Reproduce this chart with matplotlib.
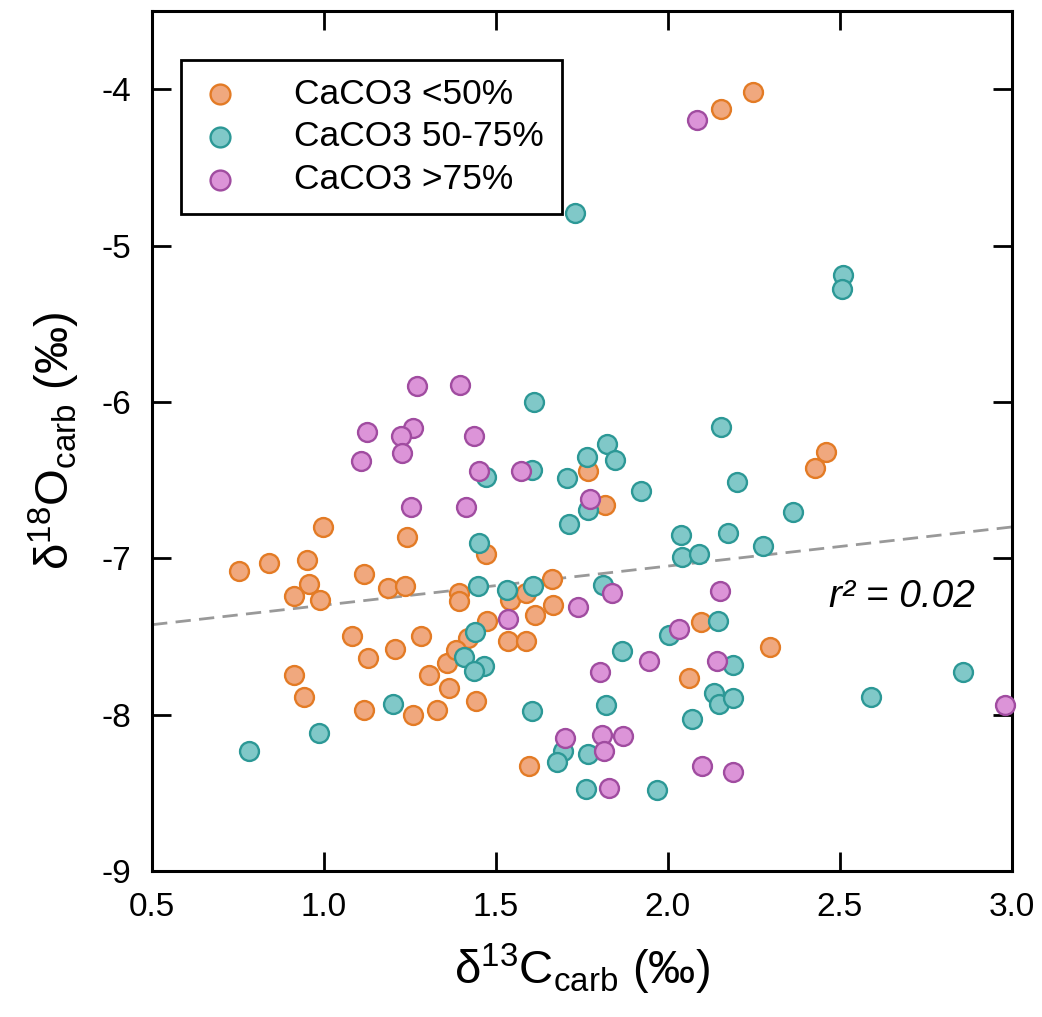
import matplotlib
matplotlib.use("Agg")
import matplotlib.pyplot as plt

# Values: d13C (x) and d18O (y), per-mille
low_x = [2.246, 2.154, 2.461, 2.427, 1.768, 1.817, 0.996, 1.240, 1.470, 0.753,
         0.840, 0.950, 0.957, 0.914, 0.988, 1.117, 1.187, 1.235, 1.392, 1.392,
         1.540, 1.587, 1.667, 1.662, 1.613, 1.473, 1.534, 1.587, 1.080, 1.282,
         1.420, 1.127, 1.206, 0.914, 0.942, 1.116, 1.260, 1.328, 1.306, 1.357,
         1.364, 1.384, 1.442, 1.596, 2.095, 2.061, 2.297]
low_y = [-4.02, -4.13, -6.32, -6.42, -6.445, -6.66, -6.80, -6.865, -6.97, -7.08,
         -7.03, -7.01, -7.165, -7.24, -7.265, -7.10, -7.19, -7.18, -7.22, -7.275,
         -7.27, -7.22, -7.30, -7.13, -7.36, -7.40, -7.53, -7.53, -7.50, -7.50,
         -7.51, -7.64, -7.58, -7.745, -7.89, -7.97, -8.00, -7.97, -7.745, -7.67,
         -7.83, -7.59, -7.915, -8.33, -7.41, -7.765, -7.57]

mid_x = [1.730, 2.510, 2.505, 1.610, 2.154, 1.824, 1.764, 1.846, 1.604, 1.471,
         1.707, 2.200, 1.923, 1.768, 1.712, 2.364, 2.037, 2.040, 2.091, 2.176,
         2.277, 1.452, 1.447, 1.533, 1.607, 1.812, 1.439, 1.408, 1.466, 1.436,
         2.147, 2.003, 1.865, 2.190, 1.819, 2.071, 2.135, 2.148, 2.190, 1.200,
         0.985, 0.783, 1.606, 1.696, 1.678, 1.768, 1.762, 1.969, 2.592, 2.858]
mid_y = [-4.79, -5.19, -5.28, -6.00, -6.16, -6.27, -6.355, -6.37, -6.435, -6.48,
         -6.49, -6.51, -6.57, -6.69, -6.78, -6.705, -6.85, -6.99, -6.97, -6.84,
         -6.92, -6.90, -7.18, -7.205, -7.18, -7.17, -7.47, -7.63, -7.69, -7.72,
         -7.40, -7.49, -7.595, -7.68, -7.94, -8.025, -7.86, -7.93, -7.895, -7.93,
         -8.12, -8.23, -7.98, -8.23, -8.30, -8.255, -8.475, -8.485, -7.89, -7.73]

high_x = [2.086, 1.269, 1.395, 1.124, 1.260, 1.223, 1.228, 1.107, 1.436, 1.452,
          1.572, 1.773, 1.254, 1.412, 1.739, 1.536, 1.836, 2.151, 2.032, 1.802,
          1.946, 2.144, 1.700, 1.807, 1.868, 1.815, 1.829, 2.100, 2.188, 2.980]
high_y = [-4.20, -5.896, -5.89, -6.19, -6.17, -6.22, -6.33, -6.375, -6.22, -6.445,
          -6.44, -6.62, -6.67, -6.675, -7.31, -7.39, -7.22, -7.21, -7.45, -7.73,
          -7.66, -7.66, -8.15, -8.13, -8.14, -8.23, -8.47, -8.33, -8.37, -7.94]

labels = ["CaCO3 <50%", "CaCO3 50-75%", "CaCO3 >75%"]
fill_colors = ["#f0a87e", "#80c8c8", "#dc94d8"]
edge_colors = ["#e37b25", "#2c9896", "#a04ca0"]

# regression line
fit_slope = 0.25
fit_intercept = -7.55
r2_label = "r² = 0.02"

x_ticks = [0.5, 1.0, 1.5, 2.0, 2.5, 3.0]
y_ticks = [-9, -8, -7, -6, -5, -4]

plt.rcParams['font.family'] = ['Liberation Sans', 'DejaVu Sans']
plt.rcParams['mathtext.fontset'] = 'custom'
plt.rcParams['mathtext.rm'] = 'Liberation Sans'
plt.rcParams['mathtext.it'] = 'Liberation Sans:italic'
plt.rcParams['axes.unicode_minus'] = False

fig = plt.figure(figsize=(10.42, 10.17), dpi=100)
ax = fig.add_axes([0.146, 0.1436, 0.825, 0.8456])

groups = [(low_x, low_y), (mid_x, mid_y), (high_x, high_y)]
for i, (xs, ys) in enumerate(groups):
    ax.scatter(xs, ys, s=185, c=fill_colors[i], edgecolors=edge_colors[i],
               linewidths=1.7, label=labels[i], zorder=3 + i, clip_on=False)

line_x = [x_ticks[0], x_ticks[-1]]
line_y = [fit_slope * v + fit_intercept for v in line_x]
ax.plot(line_x, line_y, color="#999999", lw=2.0, dashes=(5.5, 3), zorder=2)

ax.text(2.68, -7.25, r2_label, fontsize=28, style='italic', ha='center', va='center')

ax.set_xlim(0.5, 3.0)
ax.set_ylim(-9, -3.5)
ax.set_xticks(x_ticks)
ax.set_xticklabels([f"{v:.1f}" for v in x_ticks])
ax.set_yticks(y_ticks)
ax.tick_params(direction='in', length=14, width=2, labelsize=24, pad=15,
               top=True, right=True)
for sp in ax.spines.values():
    sp.set_linewidth(2.2)

ax.set_xlabel(r'δ$^{13}$C$_{\mathrm{carb}}$ (‰)', fontsize=34, labelpad=14)
ax.set_ylabel(r'δ$^{18}$O$_{\mathrm{carb}}$ (‰)', fontsize=34, labelpad=14)

leg = ax.legend(loc='upper left', bbox_to_anchor=(0.0337, 0.943), borderaxespad=0,
                fontsize=25.5, fancybox=False, edgecolor='black', framealpha=1,
                handlelength=1.2, handletextpad=1.5, labelspacing=0.27,
                borderpad=0.5, markerscale=1.05)
leg.get_frame().set_linewidth(2)

fig.savefig("out.png", dpi=100)
